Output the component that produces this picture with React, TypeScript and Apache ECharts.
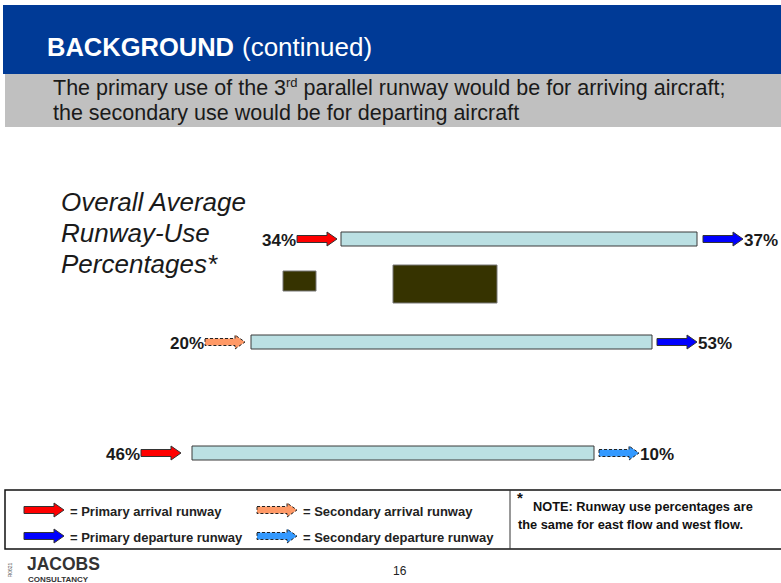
import React, { useEffect, useRef } from "react";
import * as echarts from "echarts";

// ---------- data ----------
const RUNWAYS = ["Runway 1", "Runway 2", "Runway 3"];
const ARRIVAL_PCT = [34, 20, 46];
const DEPARTURE_PCT = [37, 53, 10];
const ARRIVAL_ROLE = ["primary", "secondary", "primary"];
const DEPARTURE_ROLE = ["primary", "primary", "secondary"];
const LEGEND_ITEMS = [
  "= Primary arrival runway",
  "= Primary departure runway",
  "= Secondary arrival runway",
  "= Secondary departure runway",
];

// ---------- layout (pixel space of the hidden axes) ----------
const RUNWAY_LAYOUT = [
  { x0: 341, x1: 697, cy: 239, arrEnd: 337, depStart: 703 },
  { x0: 251, x1: 652, cy: 342, arrEnd: 245, depStart: 657 },
  { x0: 192, x1: 594, cy: 453, arrEnd: 181, depStart: 599 },
];

const FONT = "'Liberation Sans', Arial, Helvetica, sans-serif";
const COLORS = {
  primaryArrival: "#FF0000",
  primaryDeparture: "#0000FF",
  secondaryArrival: "#FF9966",
  secondaryDeparture: "#3399FF",
};

function arrowPts(x0: number, x1: number, cy: number) {
  const sh = 3.5, hh = 7, hl = 10;
  return [
    [x0, cy - sh],
    [x1 - hl, cy - sh],
    [x1 - hl, cy - hh],
    [x1, cy],
    [x1 - hl, cy + hh],
    [x1 - hl, cy + sh],
    [x0, cy + sh],
  ];
}

function arrowShape(x0: number, x1: number, cy: number, color: string, dashed: boolean) {
  return {
    type: "polygon",
    shape: { points: arrowPts(x0, x1, cy) },
    style: {
      fill: color,
      stroke: dashed ? "#222" : "#333",
      lineWidth: 1,
      lineDash: dashed ? [3, 2] : null,
    },
  };
}

function txt(text: string, x: number, y: number, opts: any = {}) {
  return {
    type: "text",
    x,
    y,
    style: {
      text,
      font: opts.font || `bold 12px ${FONT}`,
      fill: opts.fill || "#222",
      align: opts.align || "left",
      verticalAlign: "middle",
      textAlign: opts.align || "left",
      textVerticalAlign: "middle",
    },
    rotation: opts.rotation || 0,
  };
}

export default function App() {
  const ref = useRef<HTMLDivElement>(null);
  useEffect(() => {
    const chart = echarts.init(ref.current!, null, { renderer: "svg" });
    const ARROW_LEN = 40;

    const runwayData = RUNWAYS.map((name, i) => ({
      name,
      value: [i, ARRIVAL_PCT[i], DEPARTURE_PCT[i]],
    }));

    const renderRunway = (params: any, api: any) => {
      const i = api.value(0);
      const L = RUNWAY_LAYOUT[i];
      const [ax0, ay] = api.coord([L.x0, L.cy]);
      const [ax1] = api.coord([L.x1, L.cy]);
      const [arrE] = api.coord([L.arrEnd, L.cy]);
      const [depS] = api.coord([L.depStart, L.cy]);
      const arrS = arrE - ARROW_LEN;
      const depE = depS + ARROW_LEN;
      const arrPrimary = ARRIVAL_ROLE[i] === "primary";
      const depPrimary = DEPARTURE_ROLE[i] === "primary";
      return {
        type: "group",
        children: [
          {
            type: "rect",
            shape: { x: ax0, y: ay - 7, width: ax1 - ax0, height: 14 },
            style: { fill: "#BBE0E3", stroke: "#3a3a3a", lineWidth: 1 },
          },
          arrowShape(
            arrS, arrE, ay,
            arrPrimary ? COLORS.primaryArrival : COLORS.secondaryArrival,
            !arrPrimary
          ),
          arrowShape(
            depS, depE, ay,
            depPrimary ? COLORS.primaryDeparture : COLORS.secondaryDeparture,
            !depPrimary
          ),
          txt(api.value(1) + "%", arrS - 1, ay + 1, {
            align: "right",
            font: `bold 17px ${FONT}`,
            fill: "#1a1a1a",
          }),
          txt(api.value(2) + "%", depE + 1, ay + 1, {
            align: "left",
            font: `bold 17px ${FONT}`,
            fill: "#1a1a1a",
          }),
        ],
      };
    };

    const legendY = [510, 536];
    const legendGraphics: any[] = [];
    const legendColors = [
      [COLORS.primaryArrival, false],
      [COLORS.primaryDeparture, false],
      [COLORS.secondaryArrival, true],
      [COLORS.secondaryDeparture, true],
    ];
    LEGEND_ITEMS.forEach((label, k) => {
      const col = k < 2 ? 0 : 1;
      const row = k % 2;
      const ax = col === 0 ? 24 : 257;
      const tx = col === 0 ? 70 : 303;
      const [c, d] = legendColors[k] as [string, boolean];
      legendGraphics.push(arrowShape(ax, ax + 40, legendY[row], c, d));
      legendGraphics.push(
        txt(label, tx, legendY[row] + 1, { font: `bold 13px ${FONT}`, fill: "#222" })
      );
    });

    chart.setOption({
      animation: false,
      backgroundColor: "#ffffff",
      grid: { left: 0, right: 0, top: 0, bottom: 0 },
      xAxis: { type: "value", min: 0, max: 781, show: false },
      yAxis: { type: "value", min: 0, max: 583, inverse: true, show: false },
      graphic: [
        // header band
        { type: "rect", shape: { x: 3, y: 5, width: 778, height: 69 }, style: { fill: "#003A96" } },
        { type: "rect", shape: { x: 5, y: 74, width: 776, height: 53 }, style: { fill: "#C0C0C0" } },
        {
          type: "text",
          x: 47,
          y: 47,
          style: {
            text: "{b|BACKGROUND}{n|(continued)}",
            verticalAlign: "middle",
            textVerticalAlign: "middle",
            rich: {
              b: { font: `bold 25.5px ${FONT}`, fill: "#ffffff" },
              n: { font: `26px ${FONT}`, fill: "#ffffff", padding: [0, 0, 0, 8] },
            },
          },
        },
        {
          type: "text",
          x: 53,
          y: 88,
          style: {
            text: "{a|The primary use of the 3}{s|rd}{a| parallel runway would be for arriving aircraft;}",
            verticalAlign: "middle",
            textVerticalAlign: "middle",
            rich: {
              a: { font: `21.5px ${FONT}`, fill: "#1a1a1a", lineHeight: 25 },
              s: { font: `13px ${FONT}`, fill: "#1a1a1a", verticalAlign: "top", lineHeight: 13 },
            },
          },
        },
        txt("the secondary use would be for departing aircraft", 53, 113, {
          font: `21.5px ${FONT}`,
          fill: "#1a1a1a",
        }),
        // side title
        txt("Overall Average", 61, 202, { font: `italic 26px ${FONT}`, fill: "#1a1a1a" }),
        txt("Runway-Use", 61, 233, { font: `italic 26px ${FONT}`, fill: "#1a1a1a" }),
        txt("Percentages*", 61, 264, { font: `italic 26px ${FONT}`, fill: "#1a1a1a" }),
        // dark blocks
        { type: "rect", shape: { x: 283, y: 271, width: 33, height: 20 }, style: { fill: "#363300", stroke: "#777", lineWidth: 1 } },
        { type: "rect", shape: { x: 393, y: 265, width: 104, height: 38 }, style: { fill: "#363300", stroke: "#777", lineWidth: 1 } },
        // legend box
        { type: "polyline", shape: { points: [[781, 490], [5, 490], [5, 549], [781, 549]] }, style: { stroke: "#111", lineWidth: 1.5, fill: null } },
        { type: "line", shape: { x1: 510, y1: 490, x2: 510, y2: 549 }, style: { stroke: "#333", lineWidth: 1 } },
        ...legendGraphics,
        txt("*", 517, 497, { font: `bold 15px ${FONT}`, fill: "#111" }),
        txt("NOTE: Runway use percentages are", 533, 506, { font: `bold 12.8px ${FONT}`, fill: "#111" }),
        txt("the same for east flow and west flow.", 518, 524, { font: `bold 12.8px ${FONT}`, fill: "#111" }),
        // footer
        txt("JACOBS", 27, 564, { font: `900 17.5px ${FONT}`, fill: "#333" }),
        txt("CONSULTANCY", 28, 579, { font: `bold 8px ${FONT}`, fill: "#333" }),
        txt("R0621", 10, 570, { font: `5px ${FONT}`, fill: "#555", rotation: Math.PI / 2, align: "center" }),
        txt("16", 393, 571, { font: `12px ${FONT}`, fill: "#222" }),
      ],
      series: [
        {
          type: "custom",
          name: "Runway use",
          coordinateSystem: "cartesian2d",
          renderItem: renderRunway,
          data: runwayData,
          silent: true,
        },
      ],
    });
    return () => chart.dispose();
  }, []);
  return (
    <div
      ref={ref}
      style={{ position: "fixed", left: 0, top: 0, width: 781, height: 583, background: "#fff" }}
    />
  );
}
